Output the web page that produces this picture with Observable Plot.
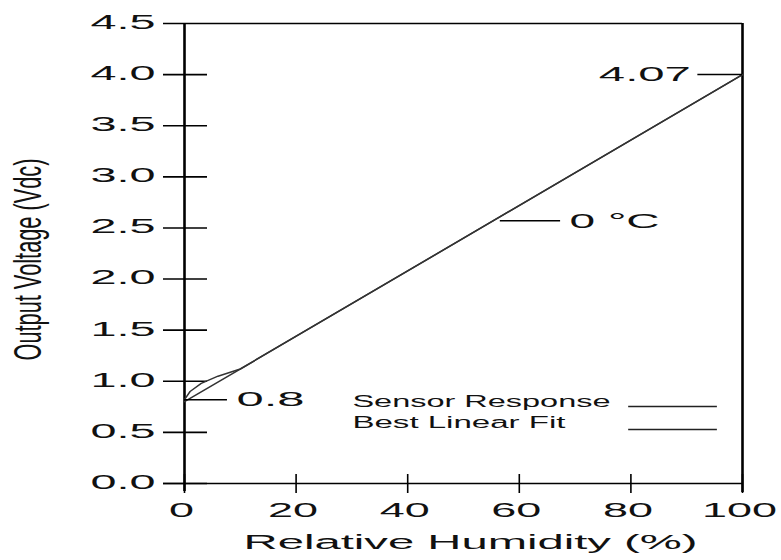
<!DOCTYPE html>
<html>
<head>
<meta charset="utf-8">
<script src="https://cdn.jsdelivr.net/npm/d3@7"></script>
<script src="https://cdn.jsdelivr.net/npm/@observablehq/plot@0.6"></script>
<style>
  html, body { margin: 0; padding: 0; background: #fff; }
  svg { display: block; }
</style>
</head>
<body>
<div id="chart"></div>
<script>
// ---- data ----
const sensorX = [0, 1, 3, 6, 10, 100];
const sensorY = [0.82, 0.90, 0.98, 1.05, 1.12, 4.0];
const fitX = [0, 100];
const fitY = [0.80, 4.0];
const xTicks = [0, 20, 40, 60, 80, 100];
const yTicks = [0, 0.5, 1.0, 1.5, 2.0, 2.5, 3.0, 3.5, 4.0, 4.5];
const annoText = ["4.07", "0.8", "0 °C"];
const annoY = [4.0, 0.82, 2.57];
const annoX1 = [92, 0, 56.6];
const annoX2 = [100, 7.7, 67.4];
const legendLabels = ["Sensor Response", "Best Linear Fit"];
const legendTextY = [0.80, 0.59];
const legendLineY = [0.753, 0.528];
const xTitle = "Relative Humidity (%)";
const yTitle = "Output Voltage (Vdc)";

const sensor = sensorX.map((x, i) => ({x, y: sensorY[i]}));
const fit = fitX.map((x, i) => ({x, y: fitY[i]}));
const anno = annoText.map((t, i) => ({t, y: annoY[i], x1: annoX1[i], x2: annoX2[i]}));
const legend = legendLabels.map((t, i) => ({t, ty: legendTextY[i], ly: legendLineY[i]}));

const font = "Liberation Sans, Arial, Helvetica, sans-serif";

const svg = Plot.plot({
  width: 781,
  height: 560,
  marginLeft: 184,
  marginRight: 39,
  marginTop: 23,
  marginBottom: 77,
  style: {fontFamily: font, background: "#fff", color: "#000"},
  x: {domain: [0, 100], axis: null},
  y: {domain: [0, 4.5], axis: null},
  marks: [
    // frame / axes
    Plot.ruleY([4.5], {x1: 0, x2: 100, insetLeft: -21, stroke: "#000", strokeWidth: 1.6}),
    Plot.ruleY([0], {x1: 0, x2: 100, insetLeft: -21, stroke: "#000", strokeWidth: 1.6}),
    Plot.ruleX([0], {y1: 4.5, y2: 0, insetBottom: -8, stroke: "#000", strokeWidth: 2.6}),
    Plot.ruleX([100], {y1: 4.5, y2: 0, insetBottom: -9, stroke: "#000", strokeWidth: 2.6}),
    // ticks crossing the axes
    Plot.ruleY(yTicks.slice(0, -1), {y: d => d, x1: 0, x2: 0, insetLeft: -21, insetRight: -23, stroke: "#000", strokeWidth: 1.6}),
    Plot.ruleX(xTicks, {x: d => d, y1: 0, y2: 0, insetTop: -9, insetBottom: -10, stroke: "#000", strokeWidth: 1.6}),
    // tick labels
    Plot.text(yTicks, {x: 0, y: d => d, text: d => d.toFixed(1), textAnchor: "end", dx: -29, dy: -1, fontSize: 20, fill: "#111", className: "ytl"}),
    Plot.text(xTicks, {x: d => d, y: 0, text: d => String(d), dy: 27, dx: -3, fontSize: 20, fill: "#111", className: "xtl"}),
    // axis titles
    Plot.text([xTitle], {frameAnchor: "bottom", text: d => d, dy: 65, dx: 7, fontSize: 20, fill: "#111", className: "xtitle"}),
    Plot.text([yTitle], {frameAnchor: "left", text: d => d, rotate: -90, textAnchor: "start", dx: -155.5, dy: 107, fontSize: 38, fill: "#111", className: "ytitle"}),
    // data lines
    Plot.line(fit, {x: "x", y: "y", stroke: "#333", strokeWidth: 1.5}),
    Plot.line(sensor, {x: "x", y: "y", stroke: "#333", strokeWidth: 1.5}),
    // annotations
    Plot.ruleY(anno, {y: "y", x1: "x1", x2: "x2", stroke: "#000", strokeWidth: 1.5}),
    Plot.text(anno.filter(d => d.t === "4.07"), {x: "x1", y: "y", text: "t", textAnchor: "end", dx: -7, fontSize: 21, fill: "#111", className: "a407"}),
    Plot.text(anno.filter(d => d.t !== "4.07"), {x: "x2", y: "y", text: "t", textAnchor: "start", dx: 9, fontSize: 21, fill: "#111", className: "aother"}),
    // legend
    Plot.text(legend, {x: 30.1, y: "ty", text: "t", textAnchor: "start", fontSize: 16, fill: "#111", className: "leg"}),
    Plot.ruleY(legend, {y: "ly", x1: 79.6, x2: 95.5, stroke: "#222", strokeWidth: 1.4})
  ]
});

// horizontally stretched lettering, as in the reference
const s = d3.select(svg);
function stretch(sel, fn) {
  s.selectAll(sel).each(function() {
    const el = d3.select(this);
    el.attr("textLength", fn(el.text())).attr("lengthAdjust", "spacingAndGlyphs");
  });
}
stretch(".ytl text", t => 65);
stretch(".xtl text", t => 25 * t.length);
stretch(".xtitle text", t => 454);
stretch(".ytitle text", t => 202);
stretch(".a407 text", t => 92);
stretch(".aother text", t => t === "0.8" ? 68 : 90);
stretch(".leg text", t => t.startsWith("Sensor") ? 258 : 213);

document.getElementById("chart").appendChild(svg);
</script>
</body>
</html>
